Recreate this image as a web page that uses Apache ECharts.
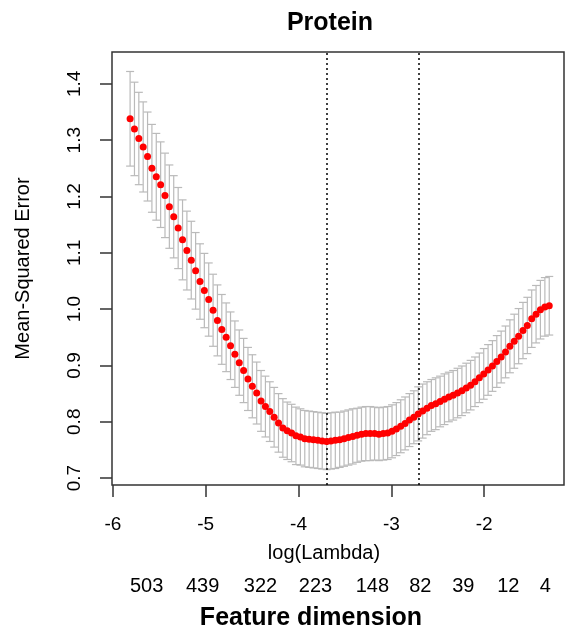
<!DOCTYPE html>
<html>
<head>
<meta charset="utf-8">
<script src="https://cdn.jsdelivr.net/npm/echarts@6/dist/echarts.min.js"></script>
<style>html,body{margin:0;padding:0;background:#fff}#c{width:565px;height:636px}</style>
</head>
<body>
<div id="c"></div>
<script>
// log(Lambda) path
const logLambda = [-5.815,-5.768,-5.721,-5.674,-5.627,-5.580,-5.533,-5.486,-5.439,-5.392,
-5.345,-5.297,-5.250,-5.203,-5.156,-5.109,-5.062,-5.015,-4.968,-4.921,
-4.874,-4.827,-4.780,-4.733,-4.686,-4.639,-4.592,-4.545,-4.498,-4.451,
-4.404,-4.357,-4.310,-4.263,-4.216,-4.169,-4.122,-4.075,-4.028,-3.980,
-3.933,-3.886,-3.839,-3.792,-3.745,-3.698,-3.651,-3.604,-3.557,-3.510,
-3.463,-3.416,-3.369,-3.322,-3.275,-3.228,-3.181,-3.134,-3.087,-3.040,
-2.993,-2.946,-2.899,-2.852,-2.805,-2.758,-2.711,-2.663,-2.616,-2.569,
-2.522,-2.475,-2.428,-2.381,-2.334,-2.287,-2.240,-2.193,-2.146,-2.099,
-2.052,-2.005,-1.958,-1.911,-1.864,-1.817,-1.770,-1.723,-1.676,-1.629,
-1.582,-1.535,-1.488,-1.441,-1.394,-1.346,-1.299];
// cross-validated mean squared error
const cvm = [1.338,1.320,1.303,1.288,1.271,1.250,1.235,1.221,1.202,1.182,
1.164,1.144,1.123,1.104,1.087,1.068,1.049,1.033,1.017,0.998,
0.980,0.964,0.950,0.935,0.920,0.905,0.891,0.876,0.863,0.851,
0.837,0.827,0.818,0.808,0.798,0.789,0.784,0.780,0.775,0.773,
0.770,0.769,0.768,0.767,0.766,0.765,0.766,0.767,0.768,0.770,
0.772,0.774,0.776,0.778,0.779,0.779,0.779,0.778,0.779,0.780,
0.783,0.787,0.792,0.797,0.803,0.808,0.814,0.819,0.824,0.829,
0.832,0.836,0.840,0.844,0.847,0.851,0.855,0.860,0.865,0.871,
0.878,0.885,0.892,0.899,0.907,0.915,0.924,0.934,0.943,0.952,
0.962,0.971,0.983,0.991,0.999,1.004,1.006];
// standard error of the CV estimate
const cvsd = [0.084,0.083,0.082,0.080,0.079,0.078,0.077,0.076,0.075,0.074,
0.073,0.072,0.071,0.070,0.069,0.068,0.067,0.066,0.065,0.064,
0.063,0.062,0.061,0.060,0.059,0.058,0.057,0.056,0.056,0.055,
0.054,0.054,0.053,0.053,0.052,0.052,0.051,0.051,0.051,0.050,
0.050,0.050,0.050,0.050,0.050,0.050,0.050,0.050,0.049,0.049,
0.049,0.049,0.048,0.048,0.048,0.048,0.047,0.047,0.047,0.047,
0.047,0.047,0.047,0.047,0.047,0.047,0.048,0.048,0.047,0.046,
0.046,0.045,0.045,0.044,0.044,0.044,0.044,0.044,0.044,0.044,
0.044,0.045,0.045,0.045,0.046,0.046,0.046,0.047,0.048,0.049,
0.050,0.050,0.051,0.051,0.052,0.052,0.052];
const idxMin = 45, idx1se = 66;
const xTicks = [-6,-5,-4,-3,-2];
const yTicks = [0.7,0.8,0.9,1.0,1.1,1.2,1.3,1.4];
const dimLabels = ['503','439','322','223','148','82','39','12','4'];
const dimPositions = [-5.637,-5.034,-4.410,-3.818,-3.205,-2.688,-2.225,-1.740,-1.342];

const FONT = '"Liberation Sans", Arial, sans-serif';
const pts = logLambda.map((x,i)=>[x,cvm[i]]);
const bars = logLambda.map((x,i)=>[x,cvm[i]-cvsd[i],cvm[i]+cvsd[i]]);

const chart = echarts.init(document.getElementById('c'), null, {renderer:'canvas'});
chart.setOption({
  animation:false,
  backgroundColor:'#fff',
  title:{text:'Protein', left:325, textAlign:'center', top:6,
    textStyle:{fontFamily:FONT, fontWeight:'bold', fontSize:25, color:'#000'}},
  grid:{left:112, right:1, top:52, bottom:149, show:true, borderColor:'#333', borderWidth:1.5, backgroundColor:'transparent'},
  xAxis:[{
    type:'value', min:-6.01, max:-1.14, position:'bottom',
    axisLine:{show:false},
    splitLine:{show:false},
    axisTick:{show:true, length:12, customValues:xTicks, lineStyle:{color:'#333', width:1.5}},
    axisLabel:{customValues:xTicks, margin:30, fontFamily:FONT, fontSize:19, color:'#000',
      formatter:v=>String(Math.round(v))},
    name:'log(Lambda)', nameLocation:'middle', nameGap:58,
    nameTextStyle:{fontFamily:FONT, fontSize:20, color:'#000', padding:[0,28,0,0]}
  },{
    type:'value', min:-6.01, max:-1.14, position:'bottom',
    axisLine:{show:false}, splitLine:{show:false}, axisTick:{show:false},
    axisLabel:{customValues:dimPositions, margin:91, fontFamily:FONT, fontSize:20, color:'#000',
      formatter:v=>{let b=0,d=1e9;dimPositions.forEach((p,i)=>{const e=Math.abs(p-v);if(e<d){d=e;b=i;}});return dimLabels[b];}},
    name:'Feature dimension', nameLocation:'middle', nameGap:121,
    nameTextStyle:{fontFamily:FONT, fontSize:25, fontWeight:'bold', color:'#000', padding:[0,54,0,0]}
  }],
  yAxis:{
    type:'value', min:0.6877, max:1.4566,
    axisLine:{show:false}, splitLine:{show:false},
    axisTick:{show:true, length:12, customValues:yTicks, lineStyle:{color:'#333', width:1.5}},
    axisLabel:{customValues:yTicks, rotate:90, margin:28, fontFamily:FONT, fontSize:19, color:'#000',
      formatter:v=>v.toFixed(1)},
    name:'Mean-Squared Error', nameLocation:'middle', nameGap:79, nameRotate:90,
    nameTextStyle:{fontFamily:FONT, fontSize:20, color:'#000'}
  },
  series:[{
    type:'custom', xAxisIndex:0, data:bars, z:2,
    renderItem:(params, api)=>{
      const x=api.value(0), lo=api.value(1), hi=api.value(2);
      const a=api.coord([x,hi]), b=api.coord([x,lo]);
      const w=4, st={stroke:'#bababa', lineWidth:1.2};
      return {type:'group', children:[
        {type:'line', shape:{x1:a[0],y1:a[1],x2:b[0],y2:b[1]}, style:st},
        {type:'line', shape:{x1:a[0]-w,y1:a[1],x2:a[0]+w,y2:a[1]}, style:st},
        {type:'line', shape:{x1:b[0]-w,y1:b[1],x2:b[0]+w,y2:b[1]}, style:st}
      ]};
    }
  },{
    type:'scatter', xAxisIndex:0, data:pts, symbol:'circle', symbolSize:7, z:5,
    itemStyle:{color:'#ff0000', opacity:1},
    markLine:{silent:true, symbol:['none','none'], label:{show:false},
      lineStyle:{color:'#000', type:[2,3], width:1.5},
      data:[{xAxis:logLambda[idxMin]},{xAxis:logLambda[idx1se]}]}
  }]
});
</script>
</body>
</html>
